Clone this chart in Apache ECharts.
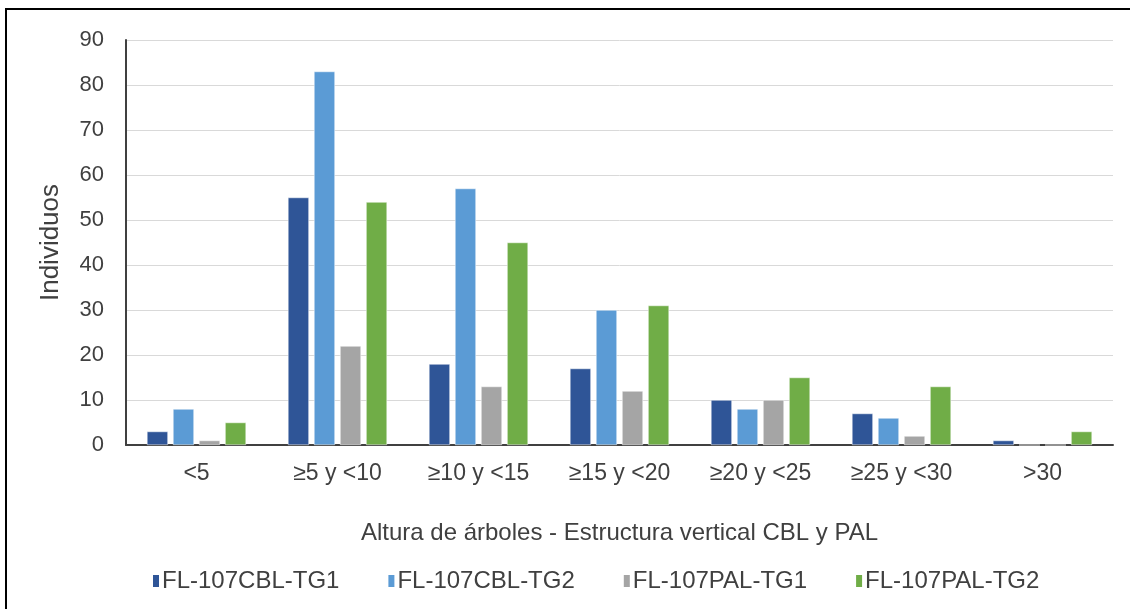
<!DOCTYPE html>
<html>
<head>
<meta charset="utf-8">
<script src="https://cdn.jsdelivr.net/npm/echarts@6/dist/echarts.min.js"></script>
<style>
html,body{margin:0;padding:0;background:#fff;}
#chart{width:1130px;height:609px;}
</style>
</head>
<body>
<div id="chart"></div>
<script>
const categories = ['<5', '≥5 y <10', '≥10 y <15', '≥15 y <20', '≥20 y <25', '≥25 y <30', '>30'];
const seriesNames = ['FL-107CBL-TG1', 'FL-107CBL-TG2', 'FL-107PAL-TG1', 'FL-107PAL-TG2'];
const cblTG1 = [3, 55, 18, 17, 10, 7, 1];
const cblTG2 = [8, 83, 57, 30, 8, 6, 0];
const palTG1 = [1, 22, 13, 12, 10, 2, 0];
const palTG2 = [5, 54, 45, 31, 15, 13, 3];
const colors = ['#2F5597', '#5B9BD5', '#A5A5A5', '#70AD47'];
const yTicks = { min: 0, max: 90, interval: 10 };

const seriesData = [cblTG1, cblTG2, palTG1, palTG2];
const chart = echarts.init(document.getElementById('chart'));
const font = 'Liberation Sans, Arial, sans-serif';
chart.setOption({
  animation: false,
  color: colors,
  textStyle: { fontFamily: font },
  graphic: [{
    type: 'rect',
    shape: { x: 6, y: 9, width: 1140, height: 700 },
    style: { fill: 'none', stroke: '#000', lineWidth: 2 },
    silent: true
  }],
  grid: { left: 126, right: 17, top: 40, bottom: 164 },
  legend: {
    data: seriesNames,
    top: 564,
    left: 146,
    icon: 'rect',
    itemWidth: 8,
    itemHeight: 14,
    itemGap: 47,
    textStyle: { fontSize: 24, color: '#404040', fontFamily: font, padding: [0, 0, 0, -3] }
  },
  xAxis: {
    type: 'category',
    data: categories,
    name: 'Altura de árboles - Estructura vertical CBL y PAL',
    nameLocation: 'middle',
    nameGap: 76,
    nameTextStyle: { fontSize: 24, color: '#404040' },
    axisLine: { lineStyle: { color: '#404040', width: 2 } },
    axisTick: { show: false },
    axisLabel: { fontSize: 23, color: '#404040', margin: 17 }
  },
  yAxis: {
    type: 'value',
    min: yTicks.min, max: yTicks.max, interval: yTicks.interval,
    name: 'Individuos',
    nameLocation: 'middle',
    nameGap: 62,
    nameTextStyle: { fontSize: 26, color: '#404040' },
    axisLine: { show: true, lineStyle: { color: '#404040', width: 2 } },
    axisTick: { show: false },
    axisLabel: { fontSize: 22, color: '#404040', margin: 22 },
    splitLine: { lineStyle: { color: '#D9D9D9', width: 1 } }
  },
  series: seriesNames.map((n, i) => ({
    name: n,
    type: 'bar',
    data: seriesData[i],
    barWidth: 21,
    barGap: '24%',
    itemStyle: { color: colors[i], borderColor: '#fff', borderWidth: 0.5 }
  }))
});
</script>
</body>
</html>
